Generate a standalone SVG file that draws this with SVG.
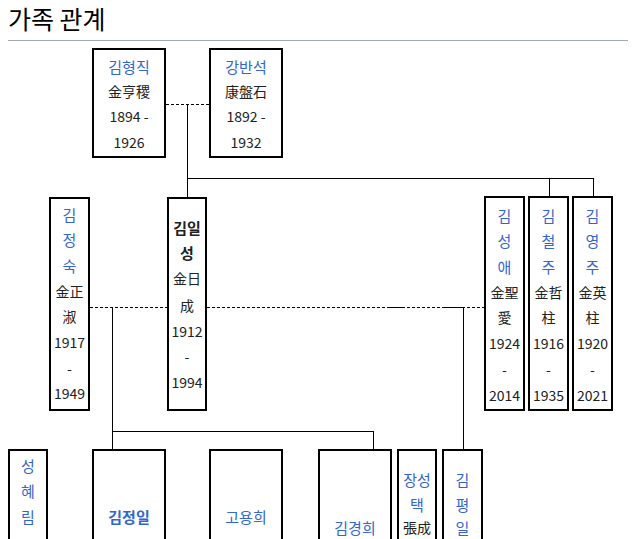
<svg xmlns="http://www.w3.org/2000/svg" width="636" height="539" viewBox="0 0 636 539">
<style>
text{font-family:"Noto Sans CJK KR","Noto Sans",sans-serif;font-size:14px;text-anchor:middle;fill:#202122}
.l{fill:#3366cc;font-size:15px}
.b{font-weight:bold;font-size:15px}
.box{fill:#fff;stroke:#000;stroke-width:2}
.c{stroke:#000;stroke-width:1;fill:none}
.d{stroke:#000;stroke-width:1;fill:none;stroke-dasharray:3,2}
.title{font-size:25px;text-anchor:start;fill:#000}
</style>
<rect width="636" height="539" fill="#fff"/>
<text class="title" x="8" y="29">가족 관계</text>
<line x1="8" y1="40.5" x2="628" y2="40.5" stroke="#a2a9b1" stroke-width="1"/>
<g id="connectors">
<line class="d" x1="166" y1="104.5" x2="209" y2="104.5"/>
<line class="c" x1="187.5" y1="104" x2="187.5" y2="197"/>
<line class="c" x1="187" y1="178.5" x2="593.5" y2="178.5"/>
<line class="c" x1="549.5" y1="178" x2="549.5" y2="196"/>
<line class="c" x1="593.5" y1="178" x2="593.5" y2="196"/>
<line class="d" x1="90" y1="307.5" x2="167" y2="307.5"/>
<line class="d" x1="207" y1="307.5" x2="484" y2="307.5"/>
<line class="c" x1="390" y1="307.5" x2="403" y2="307.5"/>
<line class="c" x1="445" y1="307.5" x2="463" y2="307.5"/>
<line class="c" x1="112.5" y1="307" x2="112.5" y2="449"/>
<line class="c" x1="112" y1="431.5" x2="373.5" y2="431.5"/>
<line class="c" x1="373.5" y1="431" x2="373.5" y2="449"/>
<line class="c" x1="463.5" y1="307" x2="463.5" y2="449"/>
</g>
<g id="kim-hyongjik">
<rect class="box" x="93" y="49" width="72" height="108"/>
<text class="l" x="129" y="73">김형직</text>
<text x="129" y="97">金亨稷</text>
<text x="129" y="122">1894 -</text>
<text x="129" y="148">1926</text>
</g>
<g id="kang-bansok">
<rect class="box" x="210" y="49" width="72" height="108"/>
<text class="l" x="246" y="73">강반석</text>
<text x="246" y="97">康盤石</text>
<text x="246" y="122">1892 -</text>
<text x="246" y="148">1932</text>
</g>
<g id="kim-jongsuk">
<rect class="box" x="50" y="198" width="39" height="212"/>
<text class="l" x="69.5" y="221">김</text>
<text class="l" x="69.5" y="246">정</text>
<text class="l" x="69.5" y="272">숙</text>
<text x="69.5" y="297">金正</text>
<text x="69.5" y="322">淑</text>
<text x="69.5" y="348">1917</text>
<text x="69.5" y="374">-</text>
<text x="69.5" y="399">1949</text>
</g>
<g id="kim-ilsung">
<rect class="box" x="168" y="198" width="38" height="212"/>
<text class="b" x="187" y="234">김일</text>
<text class="b" x="187" y="259">성</text>
<text x="187" y="284">金日</text>
<text x="187" y="311">成</text>
<text x="187" y="337">1912</text>
<text x="187" y="362">-</text>
<text x="187" y="388">1994</text>
</g>
<g id="kim-songae">
<rect class="box" x="485" y="197" width="39" height="213"/>
<text class="l" x="504.5" y="222">김</text>
<text class="l" x="504.5" y="247">성</text>
<text class="l" x="504.5" y="273">애</text>
<text x="504.5" y="298">金聖</text>
<text x="504.5" y="323">愛</text>
<text x="504.5" y="349">1924</text>
<text x="504.5" y="375">-</text>
<text x="504.5" y="401">2014</text>
</g>
<g id="kim-chólju">
<rect class="box" x="529" y="197" width="39" height="213"/>
<text class="l" x="548.5" y="222">김</text>
<text class="l" x="548.5" y="247">철</text>
<text class="l" x="548.5" y="273">주</text>
<text x="548.5" y="298">金哲</text>
<text x="548.5" y="323">柱</text>
<text x="548.5" y="349">1916</text>
<text x="548.5" y="375">-</text>
<text x="548.5" y="401">1935</text>
</g>
<g id="kim-yongju">
<rect class="box" x="573" y="197" width="39" height="213"/>
<text class="l" x="592.5" y="222">김</text>
<text class="l" x="592.5" y="247">영</text>
<text class="l" x="592.5" y="273">주</text>
<text x="592.5" y="298">金英</text>
<text x="592.5" y="323">柱</text>
<text x="592.5" y="349">1920</text>
<text x="592.5" y="375">-</text>
<text x="592.5" y="401">2021</text>
</g>
<g id="song-hyerim">
<rect class="box" x="9" y="450" width="38" height="100"/>
<text class="l" x="28" y="472">성</text>
<text class="l" x="28" y="497">혜</text>
<text class="l" x="28" y="523">림</text>
</g>
<g id="kim-jongil">
<rect class="box" x="93" y="450" width="72" height="100"/>
<text class="l b" x="129" y="523">김정일</text>
</g>
<g id="ko-yonghui">
<rect class="box" x="210" y="450" width="72" height="100"/>
<text class="l" x="246" y="523">고용희</text>
</g>
<g id="kim-kyonghui">
<rect class="box" x="319" y="450" width="72" height="100"/>
<text class="l" x="355" y="534">김경희</text>
</g>
<g id="jang-songtaek">
<rect class="box" x="398" y="450" width="38" height="100"/>
<text class="l" x="417" y="486">장성</text>
<text class="l" x="417" y="511">택</text>
<text x="417" y="533">張成</text>
</g>
<g id="kim-pyongil">
<rect class="box" x="443" y="450" width="39" height="100"/>
<text class="l" x="462.5" y="486">김</text>
<text class="l" x="462.5" y="511">평</text>
<text class="l" x="462.5" y="534">일</text>
</g>
</svg>
